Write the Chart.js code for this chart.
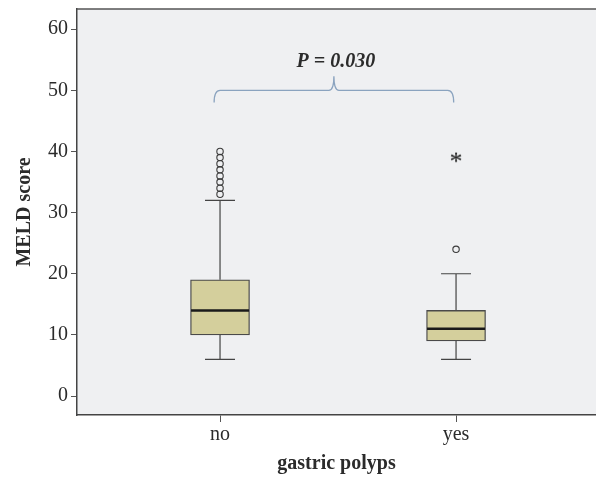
<!DOCTYPE html>
<html>
<head>
<meta charset="utf-8">
<script src="https://cdn.jsdelivr.net/npm/chart.js@4"></script>
<style>
  body { margin: 0; background: #fff; }
  #wrap { width: 596px; height: 479px; }
</style>
</head>
<body>
<div id="wrap"><canvas id="chart1"></canvas></div>
<script>
// values
const groups = ['no', 'yes'];
const q1 = [10, 9];
const q3 = [19, 14];
const medians = [14, 11];
const whiskerLow = [6, 6];
const whiskerHigh = [32, 20];
const outliersNo = [33, 34, 35, 36, 37, 38, 39, 40];
const outliersYes = [24];
const extremesYes = [39];
const yTicks = [0, 10, 20, 30, 40, 50, 60];
const pLabel = 'P = 0.030';

const FONT = "'Liberation Serif', 'DejaVu Serif', serif";
const INK = '#2b2b2b';

// asterisk marker for extreme values
function starMarker() {
  const c = document.createElement('canvas');
  c.width = 16; c.height = 16;
  const g = c.getContext('2d');
  g.fillStyle = '#111';
  g.font = '26px ' + FONT;
  g.textAlign = 'center';
  g.textBaseline = 'middle';
  g.fillText('*', 8, 13);
  return c;
}

const boxExtras = {
  id: 'boxExtras',
  beforeDraw(chart) {
    const {ctx, chartArea: a} = chart;
    ctx.save();
    ctx.fillStyle = '#eff0f2';
    ctx.fillRect(a.left, a.top, a.right - a.left, a.bottom - a.top);
    ctx.restore();
  },
  beforeDatasetsDraw(chart) {
    const {ctx, scales: {x, y}} = chart;
    ctx.save();
    ctx.strokeStyle = '#444';
    ctx.lineWidth = 1.2;
    groups.forEach((g, i) => {
      const px = x.getPixelForValue(i + 1);
      ctx.beginPath();
      ctx.moveTo(px, y.getPixelForValue(whiskerLow[i]));
      ctx.lineTo(px, y.getPixelForValue(q1[i]));
      ctx.moveTo(px, y.getPixelForValue(q3[i]));
      ctx.lineTo(px, y.getPixelForValue(whiskerHigh[i]));
      [whiskerLow[i], whiskerHigh[i]].forEach(v => {
        const py = y.getPixelForValue(v);
        ctx.moveTo(px - 15, py);
        ctx.lineTo(px + 15, py);
      });
      ctx.stroke();
    });
    ctx.restore();
  },
  afterDatasetsDraw(chart) {
    const {ctx, chartArea: a, scales: {x, y}} = chart;
    ctx.save();
    // medians
    ctx.strokeStyle = '#1a1a1a';
    ctx.lineWidth = 2.5;
    groups.forEach((g, i) => {
      const px = x.getPixelForValue(i + 1);
      const py = y.getPixelForValue(medians[i]);
      ctx.beginPath();
      ctx.moveTo(px - 29, py);
      ctx.lineTo(px + 29, py);
      ctx.stroke();
    });
    // significance brace
    const x0 = x.getPixelForValue(0.975), x1 = x.getPixelForValue(1.99);
    const xm = (x0 + x1) / 2;
    const yEnd = y.getPixelForValue(48), yBar = y.getPixelForValue(50), yTop = y.getPixelForValue(52.3);
    ctx.strokeStyle = '#8aa3bf';
    ctx.lineWidth = 1.3;
    ctx.beginPath();
    ctx.moveTo(x0, yEnd);
    ctx.quadraticCurveTo(x0, yBar, x0 + 6, yBar);
    ctx.lineTo(xm - 5, yBar);
    ctx.quadraticCurveTo(xm, yBar, xm, yTop);
    ctx.quadraticCurveTo(xm, yBar, xm + 5, yBar);
    ctx.lineTo(x1 - 6, yBar);
    ctx.quadraticCurveTo(x1, yBar, x1, yEnd);
    ctx.stroke();
    ctx.fillStyle = INK;
    ctx.font = 'italic bold 20px ' + FONT;
    ctx.textAlign = 'center';
    ctx.textBaseline = 'middle';
    ctx.fillText(pLabel, xm + 2, y.getPixelForValue(54.7));
    // top frame line
    ctx.strokeStyle = '#555';
    ctx.lineWidth = 1.5;
    ctx.beginPath();
    ctx.moveTo(a.left, a.top);
    ctx.lineTo(a.right, a.top);
    ctx.stroke();
    ctx.restore();
  }
};

new Chart(document.getElementById('chart1'), {
  type: 'bar',
  data: {
    datasets: [{
      type: 'bar',
      data: groups.map((g, i) => ({x: i + 1, y: [q1[i], q3[i]]})),
      backgroundColor: '#d4cf9c',
      borderColor: '#4a4a4a',
      borderWidth: 1.3,
      borderSkipped: false,
      barThickness: 59
    }, {
      type: 'scatter',
      data: outliersNo.map(v => ({x: 1, y: v})).concat(outliersYes.map(v => ({x: 2, y: v}))),
      pointStyle: 'circle',
      pointRadius: 3.2,
      backgroundColor: 'rgba(0,0,0,0)',
      borderColor: '#3a3a3a',
      borderWidth: 1.1
    }, {
      type: 'scatter',
      data: extremesYes.map(v => ({x: 2, y: v})),
      pointStyle: starMarker(),
      pointRadius: 8
    }]
  },
  options: {
    responsive: true,
    maintainAspectRatio: false,
    animation: false,
    layout: { autoPadding: false, padding: { top: 9, right: 0, left: 0, bottom: 0 } },
    plugins: { legend: { display: false }, tooltip: { enabled: false } },
    scales: {
      x: {
        type: 'linear',
        offset: false,
        min: 0.394,
        max: 2.593,
        afterBuildTicks: s => { s.ticks = groups.map((g, i) => ({value: i + 1})); },
        afterFit: s => { s.height = 64; s.paddingLeft = 0; s.paddingRight = 0; },
        ticks: {
          callback: v => groups[v - 1],
          color: INK,
          font: { family: FONT, size: 20 },
          padding: 1,
          maxRotation: 0
        },
        grid: { offset: false, drawOnChartArea: false, drawTicks: true, tickLength: 7, color: '#555' },
        border: { display: true, color: '#444', width: 1.5 },
        title: {
          display: true,
          text: 'gastric polyps',
          color: INK,
          font: { family: FONT, size: 20, weight: 'bold' },
          padding: { bottom: 3 }
        }
      },
      y: {
        min: -3.1,
        max: 63.3,
        afterBuildTicks: s => { s.ticks = yTicks.map(v => ({value: v})); },
        afterFit: s => { s.width = 77; s.paddingTop = 0; s.paddingBottom = 0; },
        ticks: {
          color: INK,
          font: { family: FONT, size: 20 },
          padding: 3
        },
        grid: { drawOnChartArea: false, drawTicks: true, tickLength: 6, color: '#555' },
        border: { display: true, color: '#444', width: 1.5 },
        title: {
          display: true,
          text: 'MELD score',
          color: INK,
          font: { family: FONT, size: 20, weight: 'bold' },
          padding: { top: 13 }
        }
      }
    }
  },
  plugins: [boxExtras]
});
</script>
</body>
</html>
